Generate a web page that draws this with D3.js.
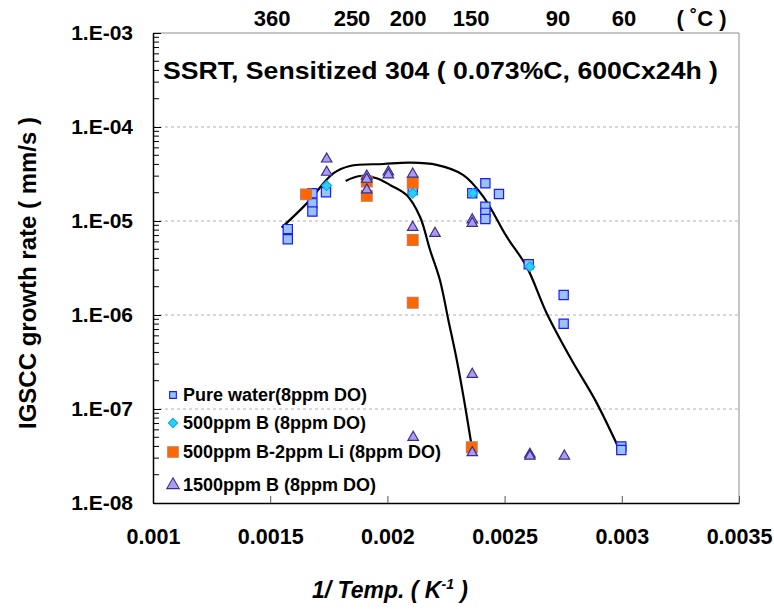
<!DOCTYPE html>
<html>
<head>
<meta charset="utf-8">
<script src="https://cdn.jsdelivr.net/npm/d3@7"></script>
<style>
  html, body { margin: 0; padding: 0; background: #fff; }
  svg { display: block; }
  text { font-family: "Liberation Sans", Arial, sans-serif; font-weight: bold; fill: #000; }
</style>
</head>
<body>
<svg id="chart" width="774" height="609"></svg>
<script>
// ---- data: x = 1/T (1/K), y = IGSCC growth rate (mm/s) ----
const pureWaterX = [0.001575, 0.001575, 0.00168, 0.00168, 0.00168, 0.001738, 0.002108, 0.002362,
                    0.002418, 0.002476, 0.002418, 0.002418, 0.002418, 0.002603, 0.002752, 0.002752, 0.002998, 0.002998];
const pureWaterY = [8.2e-6, 6.4e-6, 1.54e-5, 1.26e-5, 1.97e-5, 2.02e-5, 2.14e-5, 1.97e-5,
                    2.52e-5, 1.94e-5, 1.42e-5, 1.22e-5, 1.05e-5, 3.46e-6, 1.63e-6, 8.07e-7, 3.99e-8, 3.66e-8];

const boron500X = [0.001741, 0.002108, 0.002365, 0.002608];
const boron500Y = [2.38e-5, 1.97e-5, 1.97e-5, 3.27e-6];

const boronLiX = [0.001653, 0.001912, 0.001912, 0.002108, 0.002108, 0.002108, 0.00236];
const boronLiY = [1.92e-5, 2.63e-5, 1.85e-5, 2.55e-5, 6.28e-6, 1.35e-6, 3.92e-8];

const boron1500X = [0.001741, 0.001741, 0.001912, 0.001912, 0.001912, 0.002004, 0.002004, 0.002108,
                    0.002108, 0.002203, 0.002362, 0.002362, 0.002362, 0.00211, 0.002362, 0.002608, 0.002608, 0.002755];
const boron1500Y = [4.57e-5, 3.30e-5, 3.01e-5, 2.78e-5, 2.14e-5, 3.33e-5, 3.10e-5, 3.16e-5,
                    8.57e-6, 7.40e-6, 1.03e-5, 9.46e-6, 2.34e-7, 5.0e-8, 3.43e-8, 3.30e-8, 3.15e-8, 3.16e-8];

// trend curves (hand-fitted through the data)
const trendWideX = [0.001549, 0.001656, 0.001769, 0.00184, 0.001983, 0.002096, 0.00221, 0.002324,
                    0.002409, 0.002509, 0.002594, 0.00268, 0.002786, 0.002886, 0.002985];
const trendWideY = [8.5e-6, 1.54e-5, 3.21e-5, 3.85e-5, 4.04e-5, 4.17e-5, 3.95e-5, 3.08e-5,
                    1.82e-5, 6.81e-6, 3.27e-6, 1.04e-6, 3.32e-7, 1.25e-7, 3.92e-8];

const trendNarrowX = [0.001822, 0.001883, 0.001954, 0.002011, 0.002082, 0.002139, 0.002182, 0.002224,
                      0.00226, 0.002296, 0.002327, 0.00236];
const trendNarrowY = [2.67e-5, 3.01e-5, 2.85e-5, 2.42e-5, 1.89e-5, 1.11e-5, 4.91e-6, 2.36e-6,
                      8.85e-7, 3.32e-7, 1.25e-7, 3.97e-8];

// axis ticks
const xTicks = [0.001, 0.0015, 0.002, 0.0025, 0.003, 0.0035];
const yTicks = [1e-3, 1e-4, 1e-5, 1e-6, 1e-7, 1e-8];
const yTickLabels = ["1.E-03", "1.E-04", "1.E-05", "1.E-06", "1.E-07", "1.E-08"];
const gridValues = [1e-4, 1e-5, 1e-6, 1e-7];

// secondary temperature labels (deg C) and their 1/T positions along the top
const tempLabels = ["360", "250", "200", "150", "90", "60", "( ˚C )"];
const tempLabelAt = [0.001508, 0.001849, 0.002088, 0.002357, 0.002728, 0.003009, 0.00334];

const legendNames = ["Pure water(8ppm DO)", "500ppm B (8ppm DO)", "500ppm B-2ppm Li (8ppm DO)", "1500ppm B (8ppm DO)"];

// ---- layout ----
const svg = d3.select("#chart");
const plotL = 153, plotR = 739, plotT = 33, plotB = 503;

const x = d3.scaleLinear().domain([0.001, 0.0035]).range([plotL, plotR]);
const y = d3.scaleLog().domain([1e-8, 1e-3]).range([plotB, plotT]);

// dashed decade grid
svg.append("g").selectAll("line").data(gridValues).join("line")
  .attr("x1", plotL).attr("x2", plotR)
  .attr("y1", d => y(d)).attr("y2", d => y(d))
  .attr("stroke", "#b0b0b0").attr("stroke-width", 1.2).attr("stroke-dasharray", "3,3");

// top and right frame in grey
svg.append("path")
  .attr("d", `M${plotL},${plotT}H${plotR}V${plotB}`)
  .attr("fill", "none").attr("stroke", "#8c8c8c").attr("stroke-width", 1);

// minor log ticks on the left axis
const minorTicks = [];
for (let e = -8; e < -3; e++) for (let m = 2; m <= 9; m++) minorTicks.push(m * Math.pow(10, e));
svg.append("g").selectAll("line").data(minorTicks).join("line")
  .attr("x1", plotL).attr("x2", plotL + 6)
  .attr("y1", d => y(d)).attr("y2", d => y(d))
  .attr("stroke", "#000").attr("stroke-width", 1);

// bottom axis
const xAxis = d3.axisBottom(x).tickValues(xTicks).tickFormat(d3.format("")).tickSizeInner(-7).tickSizeOuter(0).tickPadding(26);
const gx = svg.append("g").attr("transform", `translate(0,${plotB})`).call(xAxis);
gx.select(".domain").attr("stroke", "#000").attr("stroke-width", 1.5);
gx.selectAll(".tick line").attr("stroke", "#555");
gx.selectAll("text").attr("font-size", 21.5);

// left axis
const yAxis = d3.axisLeft(y).tickValues(yTicks).tickFormat((d, i) => yTickLabels[i]).tickSizeInner(-8).tickSizeOuter(0).tickPadding(20);
const gy = svg.append("g").attr("transform", `translate(${plotL},0)`).call(yAxis);
gy.select(".domain").attr("stroke", "#000").attr("stroke-width", 1.5);
gy.selectAll(".tick line").attr("stroke", "#000");
gy.selectAll("text").attr("font-size", 21);

// temperature labels on top
svg.append("g").selectAll("text").data(tempLabels).join("text")
  .attr("x", (d, i) => x(tempLabelAt[i])).attr("y", 26)
  .attr("text-anchor", "middle").attr("font-size", 22)
  .text(d => d);

// title
svg.append("text").attr("x", 163).attr("y", 79).attr("font-size", 24)
  .attr("textLength", 555).attr("lengthAdjust", "spacingAndGlyphs")
  .text("SSRT, Sensitized 304 ( 0.073%C, 600Cx24h )");

// axis titles
svg.append("text")
  .attr("transform", `translate(36,273) rotate(-90)`)
  .attr("text-anchor", "middle").attr("font-size", 24)
  .text("IGSCC growth rate ( mm/s )");

const xt = svg.append("text").attr("x", 390).attr("y", 598).attr("text-anchor", "middle")
  .attr("font-size", 23).attr("font-style", "italic");
xt.append("tspan").text("1/ Temp. ( K");
xt.append("tspan").attr("dy", -9).attr("font-size", 14).text("-1");
xt.append("tspan").attr("dy", 9).text(" )");

// trend curves
const line = d3.line().x(d => x(d[0])).y(d => y(d[1])).curve(d3.curveCatmullRom.alpha(0.5));
svg.append("path").datum(d3.zip(trendWideX, trendWideY)).attr("d", line)
  .attr("fill", "none").attr("stroke", "#000").attr("stroke-width", 2.2);
svg.append("path").datum(d3.zip(trendNarrowX, trendNarrowY)).attr("d", line)
  .attr("fill", "none").attr("stroke", "#000").attr("stroke-width", 2.2);

// marker styles
const styles = {
  square:   { sym: d3.symbolSquare,    size: 85,  fill: "#99c2ff", stroke: "#1a1aff" },
  diamond:  { sym: d3.symbolDiamond2,  size: 60,  fill: "#33ccff", stroke: "#00b3e6" },
  orange:   { sym: d3.symbolSquare,    size: 115, fill: "#ff6600", stroke: "#cc7a4d" },
  triangle: { sym: d3.symbolTriangle2, size: 78,  fill: "#b399ec", stroke: "#303090" }
};

function drawSeries(xs, ys, st) {
  const sym = d3.symbol().type(st.sym).size(st.size);
  svg.append("g").selectAll("path").data(d3.zip(xs, ys)).join("path")
    .attr("transform", d => `translate(${x(d[0])},${y(d[1])})`)
    .attr("d", sym)
    .attr("fill", st.fill).attr("stroke", st.stroke).attr("stroke-width", 1.2);
}

drawSeries(pureWaterX, pureWaterY, styles.square);
drawSeries(boronLiX, boronLiY, styles.orange);
drawSeries(boron1500X, boron1500Y, styles.triangle);
drawSeries(boron500X, boron500Y, styles.diamond);

// legend
const legendStyles = [styles.square, styles.diamond, styles.orange, styles.triangle];
const legendSizes = [45, 55, 110, 110];
const legendRows = [395, 423, 452, 485];
const lg = svg.append("g");
legendNames.forEach((name, i) => {
  const st = legendStyles[i];
  lg.append("path")
    .attr("transform", `translate(173,${legendRows[i]})`)
    .attr("d", d3.symbol().type(st.sym).size(legendSizes[i]))
    .attr("fill", st.fill).attr("stroke", st.stroke).attr("stroke-width", 1.1);
  lg.append("text").attr("x", 183).attr("y", legendRows[i] + 6)
    .attr("font-size", 18).text(name);
});
</script>
</body>
</html>
